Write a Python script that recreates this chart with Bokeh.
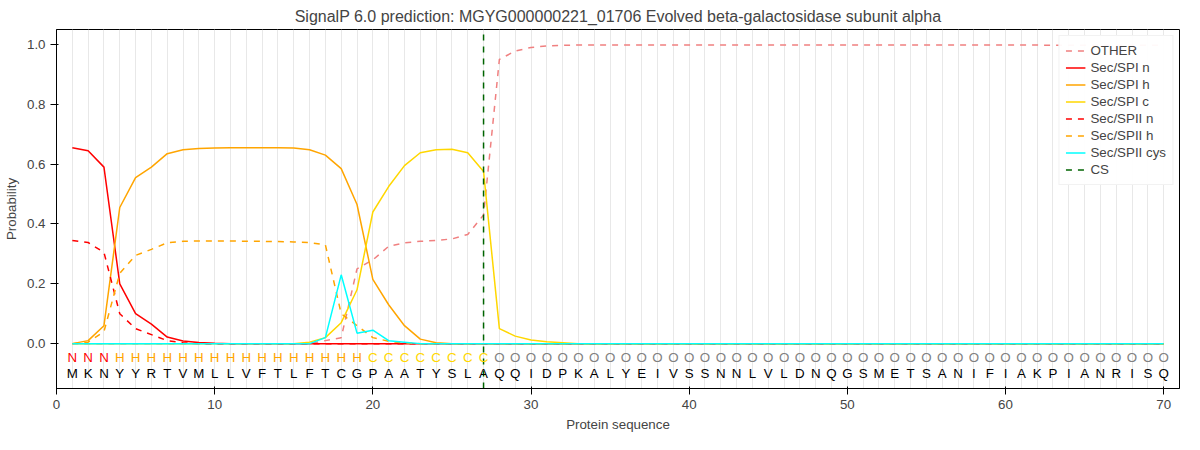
from bokeh.plotting import figure
from bokeh.models import Range1d, Legend, LegendItem, NumeralTickFormatter
from bokeh.embed import file_html
from bokeh.resources import INLINE

sequence = list("MKNYYRTVMLLVFTLFTCGPAATYSLAQQIDPKALYEIVSSNNLVLDNQGSMETSANIFIAKPIANRISQ")
labels = list("NNN" + "H" * 16 + "C" * 8 + "O" * 43)
pos = list(range(1, 71))

other = [0.0] * 16 + [0.01, 0.02, 0.25, 0.28, 0.325, 0.337, 0.342, 0.345, 0.35, 0.365, 0.43,
                      0.95, 0.978, 0.99, 0.995, 0.997] + [0.998] * 30 + [0.997] * 8
sp1_n = [0.655, 0.645, 0.59, 0.2, 0.1, 0.065, 0.022, 0.009, 0.004, 0.001] + [0.0] * 60
sp1_h = [0.0, 0.01, 0.06, 0.455, 0.555, 0.59, 0.635, 0.648, 0.652, 0.654, 0.655, 0.655, 0.655,
         0.655, 0.654, 0.648, 0.63, 0.585, 0.465, 0.215, 0.13, 0.06, 0.015, 0.003] + [0.0] * 46
sp1_c = [0.0] * 15 + [0.005, 0.02, 0.07, 0.18, 0.44, 0.525, 0.595, 0.638, 0.648, 0.65, 0.638,
                      0.575, 0.05, 0.025, 0.012, 0.006, 0.003] + [0.0] * 38
sp2_n = [0.345, 0.338, 0.305, 0.1, 0.05, 0.03, 0.01, 0.003] + [0.0] * 62
sp2_h = [0.0, 0.005, 0.04, 0.235, 0.295, 0.315, 0.337, 0.342, 0.343, 0.343, 0.343, 0.342, 0.342,
         0.341, 0.34, 0.338, 0.33, 0.1, 0.06, 0.02, 0.008, 0.002] + [0.0] * 48
sp2_cys = [0.0] * 16 + [0.02, 0.23, 0.035, 0.045, 0.01, 0.005] + [0.0] * 48
cs_pos = 27

label_colors = {"N": "red", "H": "orange", "C": "gold", "O": "gray"}

p = figure(width=1184, height=434, output_backend="svg", toolbar_location=None,
           title="SignalP 6.0 prediction: MGYG000000221_01706 Evolved beta-galactosidase subunit alpha",
           x_axis_label="Protein sequence", y_axis_label="Probability",
           min_border_left=55, min_border_right=5, min_border_top=10, min_border_bottom=40)
p.x_range = Range1d(0, 71)
p.y_range = Range1d(-0.15, 1.05)
p.title.align = "center"
p.title.text_font_size = "12pt"
p.title.text_font_style = "normal"
p.xaxis.ticker = [0, 10, 20, 30, 40, 50, 60, 70]
p.yaxis.ticker = [0.0, 0.2, 0.4, 0.6, 0.8, 1.0]
p.yaxis.formatter = NumeralTickFormatter(format="0.0")
p.xaxis.major_label_text_font_size = "10pt"
p.yaxis.major_label_text_font_size = "10pt"
p.xaxis.minor_tick_line_color = None
p.yaxis.minor_tick_line_color = None
p.xgrid.ticker = pos
p.xgrid.grid_line_color = "#e8e8e8"
p.ygrid.grid_line_color = None
p.outline_line_color = "black"
p.xaxis.axis_label_text_font_style = "normal"
p.yaxis.axis_label_text_font_style = "normal"
p.xaxis.axis_label_text_font_size = "10pt"
p.yaxis.axis_label_text_font_size = "10pt"

series = [
    ("OTHER", other, "#f08080", "dashed"),
    ("Sec/SPI n", sp1_n, "red", "solid"),
    ("Sec/SPI h", sp1_h, "orange", "solid"),
    ("Sec/SPI c", sp1_c, "gold", "solid"),
    ("Sec/SPII n", sp2_n, "red", "dashed"),
    ("Sec/SPII h", sp2_h, "orange", "dashed"),
    ("Sec/SPII cys", sp2_cys, "cyan", "solid"),
]
items = []
for name, ys, col, dash in series:
    r = p.line(pos, ys, line_color=col, line_width=1.5, line_dash=dash)
    items.append(LegendItem(label=name, renderers=[r]))

cs = p.line([cs_pos, cs_pos], [-0.15, 1.05], line_color="darkgreen", line_width=1.5, line_dash="dashed")
items.append(LegendItem(label="CS", renderers=[cs]))

p.text(pos, [-0.047] * 70, text=labels, text_color=[label_colors[l] for l in labels],
       text_align="center", text_baseline="middle", text_font_size="10pt")
p.text(pos, [-0.1] * 70, text=sequence, text_align="center", text_baseline="middle",
       text_font_size="10pt")

legend = Legend(items=items, location="top_right", label_text_font_size="10pt",
                spacing=0, padding=6, glyph_height=17, label_height=17, margin=6)
p.add_layout(legend)

open("out.html", "w").write(file_html(p, INLINE))
